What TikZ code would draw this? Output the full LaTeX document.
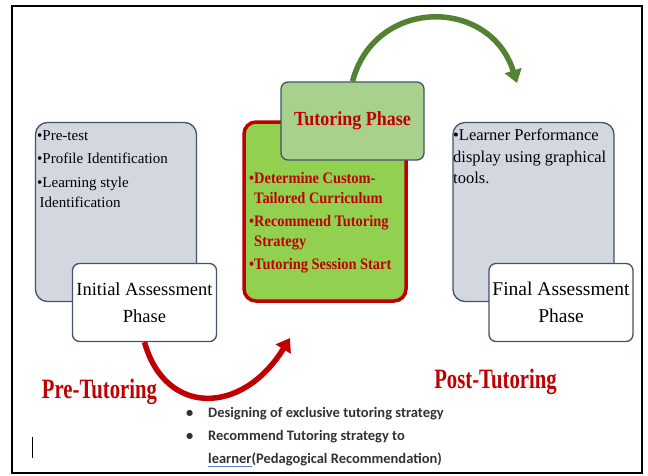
\documentclass[tikz,border=0pt]{standalone}
\usepackage{fontspec}
\setmainfont{Liberation Serif}
\newfontfamily\boxserif{Liberation Serif}
\newfontfamily\condserif[FakeStretch=0.9]{Liberation Serif}
\newfontfamily\narrowserif[FakeStretch=0.74]{Liberation Serif}
\newfontfamily\notesans{Carlito}
\usepackage{xcolor}
\usepackage{tikz}
\usetikzlibrary{arrows.meta,positioning}
\definecolor{edgeslate}{RGB}{66,82,104}
\definecolor{panelgray}{RGB}{211,216,224}
\definecolor{leafgreen}{RGB}{146,208,80}
\definecolor{sagegreen}{RGB}{169,209,142}
\definecolor{darkred}{RGB}{192,0,0}
\definecolor{arrowgreen}{RGB}{84,130,53}
\definecolor{notegray}{RGB}{50,50,50}
\definecolor{spellblue}{RGB}{90,130,220}
\newlength\markwd
\newcommand\spellmark[1]{\settowidth\markwd{#1}\rlap{\textcolor{spellblue}{\rule[-3.5pt]{\markwd}{1.2pt}}}#1}
\tikzset{
  phasebox/.style={draw=edgeslate, line width=1.3pt, fill=panelgray, rounded corners=12pt, minimum width=161pt, minimum height=179pt},
  namebox/.style={draw=edgeslate, line width=1.3pt, fill=white, rounded corners=7pt, minimum width=144pt, minimum height=78pt, align=center},
  tutorbox/.style={draw=darkred, line width=3.5pt, fill=leafgreen, rounded corners=12pt, minimum width=162pt, minimum height=179pt},
  headbox/.style={draw=edgeslate, line width=1.3pt, fill=sagegreen, rounded corners=7pt, minimum width=143pt, minimum height=78pt, text=darkred, font=\condserif\bfseries\fontsize{20}{24}\selectfont},
  boxtext/.style={anchor=north west, inner sep=0pt, align=left},
  phaselabel/.style={anchor=base, inner sep=0pt, text=darkred, font=\narrowserif\bfseries\fontsize{28}{32}\selectfont},
  flowarrow/.style={line width=5.5pt, -{Triangle[length=13pt,width=17pt]}}
}

\begin{document}
\begin{tikzpicture}[x=1pt, y=-1pt]
  \useasboundingbox (0,0) rectangle (648,475);
  \draw[line width=2.5pt] (12,6) rectangle (642,473);

  % pre-tutoring
  \node[phasebox] (initpanel) at (116,212) {};
  \node[boxtext, font=\boxserif\fontsize{15}{20}\selectfont] (inittext) at (37,130)
    {\textbullet Pre-test\\[3.5pt] \textbullet Profile Identification\\[3.5pt] \textbullet Learning style\\ \,Identification};
  \node[namebox, font=\boxserif\fontsize{18.5}{27}\selectfont] (initial) at (144.5,302.5) {Initial Assessment\\Phase};

  % tutoring
  \node[tutorbox] (tutorpanel) at (325,211.5) {};
  \node[headbox] (tutoring) at (352.5,121) {Tutoring Phase};
  \node[boxtext, text=darkred, font=\condserif\bfseries\fontsize{16}{19.5}\selectfont] (tutortext) at (249,170)
    {\begin{tabular}{@{}l@{}l@{}}
      \textbullet & Determine Custom-\\
                  & Tailored Curriculum\\[4pt]
      \textbullet & Recommend Tutoring\\
                  & Strategy\\[4pt]
      \textbullet & Tutoring Session Start
    \end{tabular}};

  % post-tutoring
  \node[phasebox] (finalpanel) at (533.5,212) {};
  \node[boxtext, font=\boxserif\fontsize{16.5}{21.5}\selectfont] (finaltext) at (453,129)
    {\textbullet Learner Performance\\ display using graphical\\ tools.};
  \node[namebox, font=\boxserif\fontsize{19.5}{27}\selectfont] (final) at (561,302.5) {Final Assessment\\Phase};

  % flow between the phases
  \coordinate (pretip) at (290,338);
  \coordinate (posttip) at (517,83);
  \draw[flowarrow, darkred] (initial.south) .. controls (165,416) and (242,416) .. (pretip);
  \draw[flowarrow, arrowgreen] (tutoring.north) .. controls (375,-3) and (490,-3) .. (posttip);

  \node[phaselabel] (pre) at (99.5,398) {Pre-Tutoring};
  \node[phaselabel] (post) at (495.5,388) {Post-Tutoring};

  \node[anchor=north west, inner sep=0pt, text=notegray, font=\notesans\bfseries\fontsize{14.5}{23}\selectfont] (notes) at (186,401)
    {\begin{tabular}{@{}p{22pt}@{}l@{}}
      \textbullet & Designing of exclusive tutoring strategy\\
      \textbullet & Recommend Tutoring strategy to\\
                  & \spellmark{learner}(Pedagogical Recommendation)
    \end{tabular}};
  \draw[line width=0.8pt] (32,437) -- (32,458);
\end{tikzpicture}
\end{document}
